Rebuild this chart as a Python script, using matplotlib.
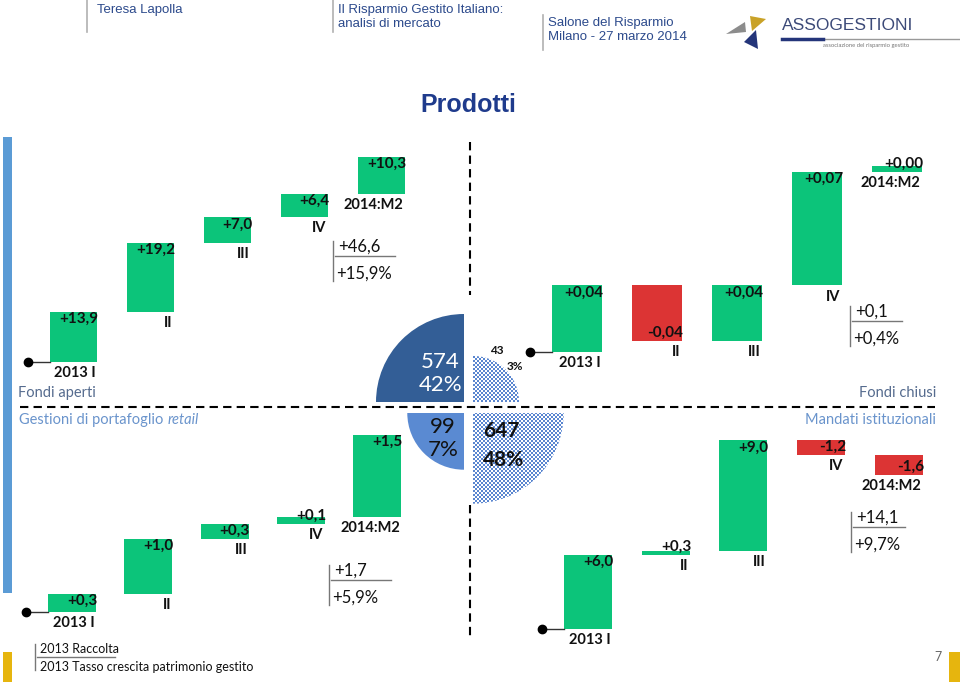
import numpy as np
import matplotlib
matplotlib.use("Agg")
import matplotlib.pyplot as plt
from matplotlib.patches import Wedge, Rectangle, Polygon
from matplotlib.colors import ListedColormap

W, H = 960, 682
GREEN = "#0cc47a"
RED = "#dc3434"
BODY = "Lato"
HEAD = "Liberation Sans"

# data
quarters = ["2013 I", "II", "III", "IV", "2014:M2"]
fondi_aperti = [13.93, 19.24, 7.02, 6.43, 10.3]
fondi_chiusi = [0.043, -0.036, 0.036, 0.073, 0.004]
gestioni_retail = [0.33, 1.0, 0.27, 0.13, 1.49]
mandati_istituzionali = [6.0, 0.34, 9.0, -1.2, -1.6]
crescita_2013 = [15.9, 0.4, 5.9, 9.7]  # tasso crescita patrimonio gestito, %
patrimonio = [574, 43, 99, 647]        # aperti, chiusi, retail, mandati
quota_patrimonio = [42, 3, 7, 48]

fig = plt.figure(figsize=(W / 100, H / 100), dpi=100)
ax0 = fig.add_axes([0, 0, 1, 1])
ax0.set_xlim(0, W)
ax0.set_ylim(H, 0)
ax0.axis("off")


def fmt(v, dec):
    return f"{v:+.{dec}f}".replace(".", ",")


# panel layout: first bar left px, pitch px, bar width px, baseline y px, px per unit
panels = [
    (fondi_aperti, 50, 77, 47, 362, 3.6, 1, (333, 241, 62), crescita_2013[0]),
    (fondi_chiusi, 552, 80, 50, 352, 1550, 2, (850, 306, 52), crescita_2013[1]),
    (gestioni_retail, 48, 76.3, 48, 612, 55, 1, (329, 565, 62), crescita_2013[2]),
    (mandati_istituzionali, 564, 77.7, 48, 629, 12.3, 1, (851, 512, 54), crescita_2013[3]),
]

for vals, x0, pitch, bw_px, base_y, scale, dec, box, pct in panels:
    top_px, bot_px = base_y - 260, base_y + 60
    left_px = x0 - pitch
    ax = fig.add_axes([left_px / W, 1 - bot_px / H, 6 * pitch / W, (bot_px - top_px) / H])
    ax.set_xlim(-1, 5)
    ax.set_ylim((base_y - bot_px) / scale, (base_y - top_px) / scale)
    ax.axis("off")
    ax.patch.set_alpha(0)
    bw = bw_px / pitch

    # starting dot
    ax.plot([-22 / pitch, 0], [0, 0], color="#333333", lw=1)
    ax.plot([-22 / pitch], [0], "o", color="black", ms=6)

    cum = 0
    for i, v in enumerate(vals):
        lo, hi = min(cum, cum + v), max(cum, cum + v)
        ax.bar(i, hi - lo, width=bw, bottom=lo, align="edge",
               color=GREEN if v >= 0 else RED, lw=0)
        right = i + bw
        txt = fmt(v, dec)
        if v >= 0 and abs(v) * scale > 14:
            ax.annotate(txt, (right, hi), xytext=(1, 0), textcoords="offset points",
                        ha="right", va="top", fontsize=11, fontweight="bold",
                        family=BODY, color="#111111")
        else:
            ax.annotate(txt, (right, lo), xytext=(1, 1), textcoords="offset points",
                        ha="right", va="bottom", fontsize=11, fontweight="bold",
                        family=BODY, color="#111111")
        ax.annotate(quarters[i], (right, lo), xytext=(-1, -3), textcoords="offset points",
                    ha="right", va="top", fontsize=10.5, fontweight="bold",
                    family=BODY, color="#111111")
        cum += v

    # 2013 summary
    bx, by, bl = box
    total = sum(vals[:4])
    ax0.plot([bx, bx], [by, by + 40], color="#777777", lw=1)
    ax0.plot([bx + 2, bx + bl], [by + 15, by + 15], color="#777777", lw=1)
    ax0.text(bx + 5, by + 6, fmt(total, 1), ha="left", va="center",
             fontsize=12, family=BODY, color="#111111")
    ax0.text(bx + 3, by + 33, fmt(pct, 1) + "%", ha="left", va="center",
             fontsize=12, family=BODY, color="#111111")

# quarter pies
cx, cy = 468.5, 407.5
quadrants = [(-4.5, -5.5, 180, 270), (4.5, -5.5, 270, 360),
             (-4.5, 5.5, 90, 180), (4.5, 5.5, 0, 90)]
fills = ["#335e96", None, "#5a8ad2", None]
checker = ListedColormap(["#ffffff", "#5a86d0"])
for (dx, dy, t1, t2), val, fc in zip(quadrants, patrimonio, fills):
    r = 88 * (val / patrimonio[0]) ** 0.25
    w = Wedge((cx + dx, cy + dy), r, t1, t2, lw=0,
              facecolor=fc if fc else "none")
    ax0.add_patch(w)
    if fc is None:
        n = int(2 * r) + 4
        yy, xx = np.mgrid[0:n, 0:n]
        board = ((xx // 2 + yy // 2) % 2).astype(float)
        ex = (cx + dx - n / 2, cx + dx + n / 2, cy + dy + n / 2, cy + dy - n / 2)
        im = ax0.imshow(board, extent=ex, cmap=checker,
                        interpolation="nearest", aspect="auto", vmin=0, vmax=1)
        im.set_clip_path(w)

ax0.text(440, 362, str(patrimonio[0]), ha="center", va="center", fontsize=16, family=BODY, color="white")
ax0.text(441, 385, f"{quota_patrimonio[0]}%", ha="center", va="center", fontsize=16, family=BODY, color="white")
ax0.text(497, 351, str(patrimonio[1]), ha="center", va="center", fontsize=8.5, family=BODY, fontweight="bold", color="#111111")
ax0.text(515, 367, f"{quota_patrimonio[1]}%", ha="center", va="center", fontsize=8.5, family=BODY, fontweight="bold", color="#111111")
ax0.text(443, 427, str(patrimonio[2]), ha="center", va="center", fontsize=16, family=BODY, color="#111111")
ax0.text(443, 450, f"{quota_patrimonio[2]}%", ha="center", va="center", fontsize=16, family=BODY, color="#111111")
ax0.text(501, 431, str(patrimonio[3]), ha="center", va="center", fontsize=15, family=BODY, fontweight="bold", color="#111111")
ax0.text(504, 460, f"{quota_patrimonio[3]}%", ha="center", va="center", fontsize=15, family=BODY, fontweight="bold", color="#111111")

# dashed separators
ax0.plot([20, 935], [407, 407], color="black", lw=1.5, ls=(0, (4, 2.5)))
ax0.plot([470, 470], [142, 295], color="black", lw=1.5, ls=(0, (4, 2.5)))
ax0.plot([470, 470], [505, 640], color="black", lw=1.5, ls=(0, (4, 2.5)))

# panel names
ax0.text(18, 393, "Fondi aperti", ha="left", va="center", fontsize=10.5, family=BODY, color="#556b8e")
ax0.text(936, 393, "Fondi chiusi", ha="right", va="center", fontsize=10.5, family=BODY, color="#556b8e")
ax0.text(936, 420, "Mandati istituzionali", ha="right", va="center", fontsize=10.5, family=BODY, color="#6a94cc")
t = ax0.text(19, 420, "Gestioni di portafoglio ", ha="left", va="center", fontsize=10.5, family=BODY, color="#6a94cc")
fig.canvas.draw()
bb = t.get_window_extent()
ax0.text(bb.x1, 420, "retail", ha="left", va="center", fontsize=10.5, family=BODY,
         style="italic", color="#6a94cc")

# title
ax0.text(468, 105, "Prodotti", ha="center", va="center", fontsize=18, fontweight="bold",
         family="Liberation Sans", color="#1f3b8c")

# side strips
ax0.add_patch(Rectangle((3, 137), 9, 456, color="#5b9bd5", lw=0))
ax0.add_patch(Rectangle((3, 652), 9, 30, color="#e6b50e", lw=0))
ax0.add_patch(Rectangle((949, 652), 11, 30, color="#e6b50e", lw=0))
ax0.text(938, 657, "7", ha="center", va="center", fontsize=9, family=BODY, color="#666666")

# legend
ax0.plot([35, 35], [644, 670], color="#777777", lw=1)
ax0.plot([37, 115], [657, 657], color="#777777", lw=1)
ax0.text(40, 649, "2013 Raccolta", ha="left", va="center", fontsize=9, family=BODY, color="#111111")
ax0.text(40, 667, "2013 Tasso crescita patrimonio gestito", ha="left", va="center",
         fontsize=9, family=BODY, color="#111111")

# header
hc = "#2c4a8c"
for x, y0, y1 in [(87, 0, 32), (333, 0, 32), (543, 15, 50)]:
    ax0.plot([x, x], [y0, y1], color="#b0b0b0", lw=1.2)
ax0.text(97, 10, "Teresa Lapolla", ha="left", va="center", fontsize=9.5, family=HEAD, color=hc)
ax0.text(338, 10, "Il Risparmio Gestito Italiano:", ha="left", va="center", fontsize=9.5, family=HEAD, color=hc)
ax0.text(338, 24, "analisi di mercato", ha="left", va="center", fontsize=9.5, family=HEAD, color=hc)
ax0.text(548, 23, "Salone del Risparmio", ha="left", va="center", fontsize=9.5, family=HEAD, color=hc)
ax0.text(548, 37, "Milano - 27 marzo 2014", ha="left", va="center", fontsize=9.5, family=HEAD, color=hc)

# logo
ax0.add_patch(Polygon([(726, 34), (745, 22), (746, 32)], color="#8c8c8c", lw=0))
ax0.add_patch(Polygon([(750, 16), (766, 19), (752, 31)], color="#c9a227", lw=0))
ax0.add_patch(Polygon([(756, 30), (744, 42), (758, 49)], color="#24357a", lw=0))
ax0.text(782, 25, "ASSOGESTIONI", ha="left", va="center", fontsize=12.5,
         family="Liberation Sans", color="#3c4a78")
ax0.plot([782, 960], [38.5, 38.5], color="#999999", lw=1)
ax0.plot([782, 823], [38.5, 38.5], color="#24357a", lw=2.5)
ax0.text(823, 46, "associazione del risparmio gestito", ha="left", va="center",
         fontsize=4.2, family=BODY, color="#777777")

fig.savefig("out.png", dpi=100)
